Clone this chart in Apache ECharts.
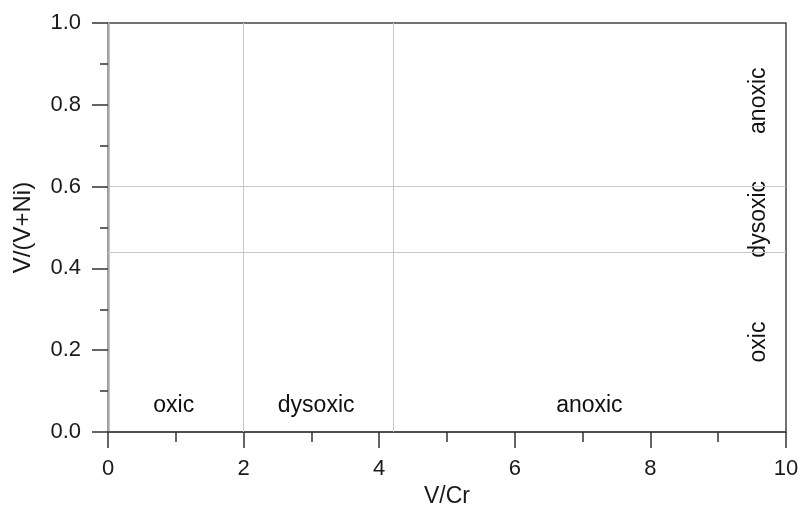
<!DOCTYPE html>
<html>
<head>
<meta charset="utf-8">
<script src="https://cdn.jsdelivr.net/npm/echarts@6/dist/echarts.min.js"></script>
<style>
  html, body { margin: 0; padding: 0; background: #fff; }
  #chart { width: 800px; height: 507px; }
</style>
</head>
<body>
<div id="chart"></div>
<script>
// seuils (lignes de séparation)
const xBounds = [2, 4.2];
const yBounds = [0.44, 0.6];

// étiquettes des domaines
const zoneNames = ["oxic", "dysoxic", "anoxic"];
const bottomX = [0.97, 3.07, 7.1];
const bottomY = 0.065;
const rightY = [0.22, 0.52, 0.81];
const rightX = 9.6;

const fontFam = "Liberation Sans, Arial, sans-serif";

const chart = echarts.init(document.getElementById("chart"));

const option = {
  backgroundColor: "#fff",
  animation: false,
  grid: {
    left: 108, right: 14, top: 23, bottom: 75,
    outerBoundsMode: "none",
    show: true, borderColor: "#444", borderWidth: 1.5, backgroundColor: "transparent"
  },
  xAxis: {
    type: "value", min: 0, max: 10, interval: 2,
    name: "V/Cr", nameLocation: "middle", nameGap: 47,
    nameTextStyle: { fontSize: 23, color: "#1a1a1a", fontFamily: fontFam },
    axisLine: { lineStyle: { color: "#444", width: 1.5 } },
    axisTick: { length: 16, lineStyle: { color: "#333", width: 1.5 } },
    minorTick: { show: true, splitNumber: 2, length: 10, lineStyle: { color: "#333", width: 1.5 } },
    axisLabel: { fontSize: 22, color: "#1a1a1a", margin: 26, fontFamily: fontFam },
    splitLine: { show: false }
  },
  yAxis: {
    type: "value", min: 0, max: 1, interval: 0.2,
    name: "V/(V+Ni)", nameLocation: "middle", nameGap: 73,
    nameTextStyle: { fontSize: 24, color: "#1a1a1a", fontFamily: fontFam },
    axisLine: { lineStyle: { color: "#aaa", width: 2.5 } },
    axisTick: { length: 16, lineStyle: { color: "#333", width: 1.5 } },
    minorTick: { show: true, splitNumber: 2, length: 8, lineStyle: { color: "#333", width: 1.5 } },
    axisLabel: {
      fontSize: 22, color: "#1a1a1a", margin: 27, fontFamily: fontFam,
      formatter: v => v.toFixed(1)
    },
    splitLine: { show: false }
  },
  series: [
    {
      type: "scatter",
      data: [],
      silent: true,
      markLine: {
        symbol: "none",
        silent: true,
        label: { show: false },
        lineStyle: { color: "#c8c8c8", width: 1, type: "solid" },
        data: xBounds.map(v => ({ xAxis: v })).concat(yBounds.map(v => ({ yAxis: v })))
      }
    },
    {
      type: "scatter",
      symbolSize: 0,
      silent: true,
      itemStyle: { opacity: 1 },
      label: {
        show: true, position: "inside", formatter: p => p.data[2],
        fontSize: 23, color: "#111", fontFamily: fontFam
      },
      data: zoneNames.map((n, i) => [bottomX[i], bottomY, n])
    },
    {
      type: "scatter",
      symbolSize: 0,
      silent: true,
      itemStyle: { opacity: 1 },
      label: {
        show: true, position: "inside", rotate: 90, formatter: p => p.data[2],
        fontSize: 23, color: "#111", fontFamily: fontFam
      },
      data: zoneNames.map((n, i) => [rightX, rightY[i], n])
    }
  ]
};

chart.setOption(option);
window.addEventListener("resize", () => chart.resize());
</script>
</body>
</html>
